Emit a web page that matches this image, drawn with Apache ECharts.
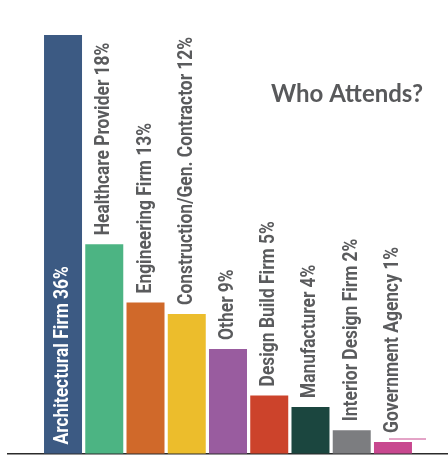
<!DOCTYPE html>
<html>
<head>
<meta charset="utf-8">
<script src="https://cdn.jsdelivr.net/npm/echarts@6/dist/echarts.min.js"></script>
<style>
html,body{margin:0;padding:0;background:#fff;}
#chart{width:448px;height:455px;}
</style>
</head>
<body>
<div id="chart"></div>
<script>
const categories = ['Architectural Firm', 'Healthcare Provider', 'Engineering Firm', 'Construction/Gen. Contractor', 'Other', 'Design Build Firm', 'Manufacturer', 'Interior Design Firm', 'Government Agency'];
const values = [36, 18, 13, 12, 9, 5, 4, 2, 1];
const palette = ['#3c5a83', '#4cb483', '#d0692a', '#ecbd2c', '#995c9f', '#cc432b', '#1b463f', '#7c7d80', '#c8488f'];
const titleText = 'Who Attends?';

const chart = echarts.init(document.getElementById('chart'));
const labelFont = 'Roboto, "Liberation Sans", sans-serif';
const condense = 0.87;

chart.setOption({
  animation: false,
  title: {
    text: titleText,
    left: 266,
    top: 77,
    textStyle: { fontSize: 24, fontWeight: 'bold', color: '#58595b', fontFamily: 'Lato, "Open Sans", sans-serif' }
  },
  grid: { left: 42.4, right: 34.4, top: 35, bottom: 1.5 },
  xAxis: {
    type: 'category',
    data: categories,
    axisLine: { show: false },
    axisTick: { show: false },
    axisLabel: { show: false }
  },
  yAxis: {
    type: 'value',
    min: 0,
    max: 36,
    show: false,
    splitLine: { show: false }
  },
  series: [{
    type: 'bar',
    data: values.map((v, i) => ({ value: v, itemStyle: { color: palette[i] } })),
    barWidth: 38
  }, {
    type: 'custom',
    data: values.map((v, i) => [i, v]),
    encode: { x: 0, y: 1 },
    z: 5,
    renderItem: function (params, api) {
      const i = api.value(0);
      const v = api.value(1);
      const top = api.coord([i, v]);
      const base = api.coord([i, 0]);
      const inside = i === 0;
      return {
        type: 'text',
        x: top[0],
        y: inside ? base[1] - 9 : top[1] - 9,
        rotation: Math.PI / 2,
        scaleX: condense,
        style: {
          text: categories[i] + ' ' + v + '%',
          fill: inside ? '#ffffff' : '#5a5b5d',
          font: 'bold 20px ' + labelFont,
          align: 'left',
          verticalAlign: 'middle'
        }
      };
    }
  }],
  graphic: [
    { type: 'line', shape: { x1: 7, y1: 453.8, x2: 448, y2: 453.8 }, style: { stroke: '#2b2b2b', lineWidth: 1.5 } },
    { type: 'line', shape: { x1: 389, y1: 439, x2: 426, y2: 439 }, style: { stroke: '#c8488f', lineWidth: 1 } }
  ]
});
</script>
</body>
</html>
